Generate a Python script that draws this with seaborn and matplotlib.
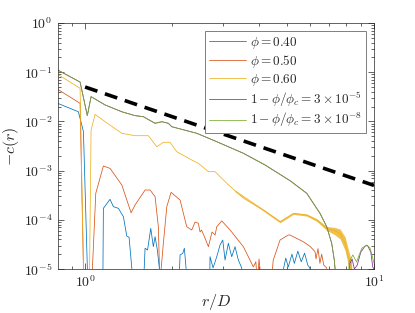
import numpy as np
import pandas as pd
import seaborn as sns
import matplotlib.pyplot as plt
from matplotlib.ticker import LogLocator, FuncFormatter, NullFormatter

# values (r/D, -c(r)); 1e-6 marks points below the axis floor
r_040 = [0.804, 0.948, 0.987, 1.03, 1.15, 1.157, 1.22, 1.253, 1.304, 1.357, 1.394, 1.42, 1.451, 1.46,
         1.575, 1.613, 1.645, 1.688, 1.723, 1.747, 1.779, 1.807, 1.82,
         2.09, 2.132, 2.178, 2.206, 2.236, 2.25,
         2.69, 2.707, 2.773, 2.856, 2.932, 2.996, 3.051, 3.132, 3.218, 3.304, 3.392, 3.485, 3.52,
         4.8, 4.86, 4.95, 5.05, 5.2, 5.3, 5.45, 5.6, 5.75, 5.9, 6.0, 6.05]
c_040 = [0.0233, 0.0157, 6.2e-3, 1e-6, 1e-6, 1.71e-4, 2.61e-4, 1.85e-4, 1.71e-4, 1.16e-4, 4.69e-5, 4.41e-5, 1.05e-5, 1e-6,
         1e-6, 2.64e-5, 2.43e-5, 6.7e-5, 2.84e-5, 4.54e-5, 2.43e-5, 1.05e-5, 1e-6,
         1e-6, 1.93e-5, 2.08e-5, 2.64e-5, 1.05e-5, 1e-6,
         1e-6, 1.78e-5, 1.05e-5, 1.78e-5, 3.08e-5, 3.88e-5, 1.52e-5, 3.33e-5, 1.78e-5, 2.84e-5, 1.52e-5, 1.05e-5, 1e-6,
         1e-6, 1e-5, 1.67e-5, 1.1e-5, 2.0e-5, 1.3e-5, 2.3e-5, 1.4e-5, 2.1e-5, 1.2e-5, 1.05e-5, 1e-6]

r_050 = [0.804, 0.961, 0.995, 1.05, 1.06, 1.089, 1.157, 1.22, 1.34, 1.443, 1.489, 1.529, 1.613, 1.679, 1.747,
         1.793, 1.815, 1.866, 1.918, 1.985, 2.132, 2.248, 2.34, 2.403, 2.466, 2.5, 2.53, 2.6, 2.672, 2.75,
         2.818, 2.856, 2.972, 3.177, 3.53, 3.673, 3.823, 3.9, 3.95, 4.0, 4.08, 4.3,
         4.48, 4.73, 5.05, 5.12, 5.69, 6.0, 6.25, 6.3, 6.4, 6.5, 6.59, 6.7, 6.86, 7.0]
c_050 = [0.0449, 0.0233, 1e-6, 1e-6, 1e-5, 3.46e-4, 1.24e-3, 1.11e-3, 5.1e-4, 1.39e-4, 2.0e-4, 2.52e-4, 4.03e-4, 4.03e-4, 2.95e-4,
         7.24e-5, 5e-6, 3.33e-5, 1.85e-4, 3.62e-4, 2.52e-4, 7.24e-5, 6.2e-5, 9.0e-5, 8.5e-5, 5.65e-5, 6.2e-5, 4.27e-5, 2.84e-5, 5.65e-5,
         4.9e-5, 7.24e-5, 9.5e-5, 6.2e-5, 2.84e-5, 1.78e-5, 1.1e-5, 1.4e-5, 5e-6, 1.6e-5, 5e-6, 1e-6,
         1.52e-5, 3.88e-5, 4.9e-5, 4.9e-5, 3.59e-5, 2.9e-5, 2.25e-5, 1.6e-5, 2.6e-5, 1.3e-5, 2.0e-5, 1.2e-5, 1.05e-5, 1e-6]

r_060 = [0.804, 0.961, 0.995, 1.032, 1.049, 1.083, 1.173, 1.34, 1.489, 1.656, 1.771, 1.866, 1.968, 2.077,
         2.34, 2.466, 2.672, 2.818, 3.093, 3.53, 4.14, 4.73, 5.26, 5.85, 6.34, 6.861, 7.3, 7.63, 7.94, 8.15, 8.37, 8.5]
c_060 = [0.0906, 0.0471, 1e-6, 1e-6, 6.68e-3, 0.0139, 9.86e-3, 5.73e-3, 5.12e-3, 5.12e-3, 3.06e-3, 3.76e-3, 3.76e-3, 2.42e-3,
         1.64e-3, 1.41e-3, 9.5e-4, 9.5e-4, 5.52e-4, 2.74e-4, 1.58e-4, 9.15e-5, 1.35e-4, 1.25e-4, 9.9e-5, 6.7e-5, 6.0e-5, 5.3e-5, 3.33e-5, 1.78e-5, 1.05e-5, 1e-6]
# width of the noisy band on the phi = 0.60 curve
band_r = [3.3, 4.14, 4.73, 5.26, 5.85, 6.34, 6.86, 7.3, 7.63, 7.94, 8.15, 8.37]
band_lo = [3.75e-4, 1.51e-4, 8.7e-5, 1.29e-4, 1.19e-4, 9.3e-5, 6.1e-5, 5.0e-5, 4.1e-5, 2.4e-5, 1.2e-5, 7e-6]
band_hi = [4.05e-4, 1.65e-4, 9.6e-5, 1.41e-4, 1.31e-4, 1.05e-4, 7.3e-5, 7.0e-5, 6.5e-5, 4.5e-5, 2.5e-5, 1.4e-5]

r_crit = [0.804, 0.961, 1.018, 1.049, 1.173, 1.34, 1.489, 1.591, 1.747, 1.843, 1.942, 1.995, 2.435, 2.818,
          3.53, 4.197, 5.121, 5.85, 6.504, 6.861, 7.138, 7.288, 7.328, 7.42]
c_crit = [0.111, 0.063, 0.0131, 0.0318, 0.0216, 0.0157, 0.0131, 0.01247, 9.15e-3, 9.86e-3, 9.15e-3, 7.8e-3, 5.73e-3, 4.0e-3,
          2.25e-3, 1.3e-3, 6.24e-4, 3.46e-4, 1.35e-4, 7.24e-5, 3.33e-5, 1.52e-5, 1.05e-5, 1e-6]
r_tail5 = [8.1, 8.25, 8.4, 8.55, 8.75, 9.0, 9.3, 9.5, 9.75, 9.9, 10.0]
c_tail5 = [1e-6, 1.3e-5, 1.6e-5, 1.0e-5, 1.2e-5, 2.2e-5, 2.9e-5, 3.0e-5, 2.2e-5, 1.1e-5, 1.0e-5]
r_tail8 = [8.05, 8.2, 8.45, 8.7, 9.07, 9.44, 9.69, 9.94, 10.0]
c_tail8 = [1e-6, 1.39e-5, 1.93e-5, 1.39e-5, 2.64e-5, 3.08e-5, 2.67e-5, 1.52e-5, 1.3e-5]

guide_r = [1.0, 10.0]
guide_c = [0.05, 5e-4]

colors = ['#0072BD', '#D95319', '#EDB120', '#7E2F8E', '#77AC30']
labels = [r'$\phi = 0.40$', r'$\phi = 0.50$', r'$\phi = 0.60$',
          r'$1 - \phi/\phi_c = 3 \times 10^{-5}$', r'$1 - \phi/\phi_c = 3 \times 10^{-8}$']

sns.set_style('ticks')
plt.rcParams['mathtext.fontset'] = 'cm'
plt.rcParams['font.family'] = ['DejaVu Sans']

fig = plt.figure(figsize=(4.15, 3.13), dpi=100)
ax = fig.add_axes([0.1398, 0.1406, 0.9012 - 0.1398, 0.9265 - 0.1406])
ax.set_xscale('log')
ax.set_yscale('log')

lw = 0.55
sns.lineplot(x=r_040, y=c_040, color=colors[0], lw=lw, label=labels[0], ax=ax, estimator=None, sort=False)
sns.lineplot(x=r_050, y=c_050, color=colors[1], lw=lw, label=labels[1], ax=ax, estimator=None, sort=False)
ax.fill_between(band_r, band_lo, band_hi, color=colors[2], alpha=0.8, lw=0)
sns.lineplot(x=r_060, y=c_060, color=colors[2], lw=lw, label=labels[2], ax=ax, estimator=None, sort=False)
sns.lineplot(x=r_crit + r_tail5, y=c_crit + c_tail5, color=colors[3], lw=lw, label=labels[3], ax=ax,
             estimator=None, sort=False)
sns.lineplot(x=r_crit + r_tail8, y=c_crit + c_tail8, color=colors[4], lw=lw, label=labels[4], ax=ax,
             estimator=None, sort=False)
ax.plot(guide_r, guide_c, color='black', lw=2.6, dashes=(3.6, 2.2))

ax.set_xlim(0.806, 10)
ax.set_ylim(1e-5, 1)

ax.xaxis.set_major_locator(LogLocator(base=10, numticks=10))
ax.yaxis.set_major_locator(LogLocator(base=10, numticks=10))
ax.xaxis.set_minor_locator(LogLocator(base=10, subs=np.arange(2, 10), numticks=20))
ax.yaxis.set_minor_locator(LogLocator(base=10, subs=np.arange(2, 10), numticks=20))
fmt = FuncFormatter(lambda v, p: r'$10^{%d}$' % int(round(np.log10(v))))
ax.xaxis.set_major_formatter(fmt)
ax.yaxis.set_major_formatter(fmt)
ax.xaxis.set_minor_formatter(NullFormatter())
ax.yaxis.set_minor_formatter(NullFormatter())

axcol = '#262626'
ax.tick_params(which='both', direction='in', top=True, right=True, colors=axcol, labelsize=10, width=0.5)
ax.tick_params(which='major', length=4, pad=4)
ax.tick_params(which='minor', length=2)
for s in ax.spines.values():
    s.set_color(axcol)
    s.set_linewidth(0.5)

ax.set_xlabel(r'$r/D$', fontsize=11.5, color=axcol, labelpad=1)
ax.set_ylabel(r'$-c(r)$', fontsize=11.5, color=axcol, labelpad=2)

leg = ax.legend(loc='upper right', fontsize=9.5, frameon=True, fancybox=False, framealpha=1,
                edgecolor='#7f7f7f', handlelength=2.8, handletextpad=0.3, labelspacing=0.15,
                borderpad=0.3, borderaxespad=0.6)
leg.get_frame().set_linewidth(0.7)

fig.savefig('out.png', dpi=100)
